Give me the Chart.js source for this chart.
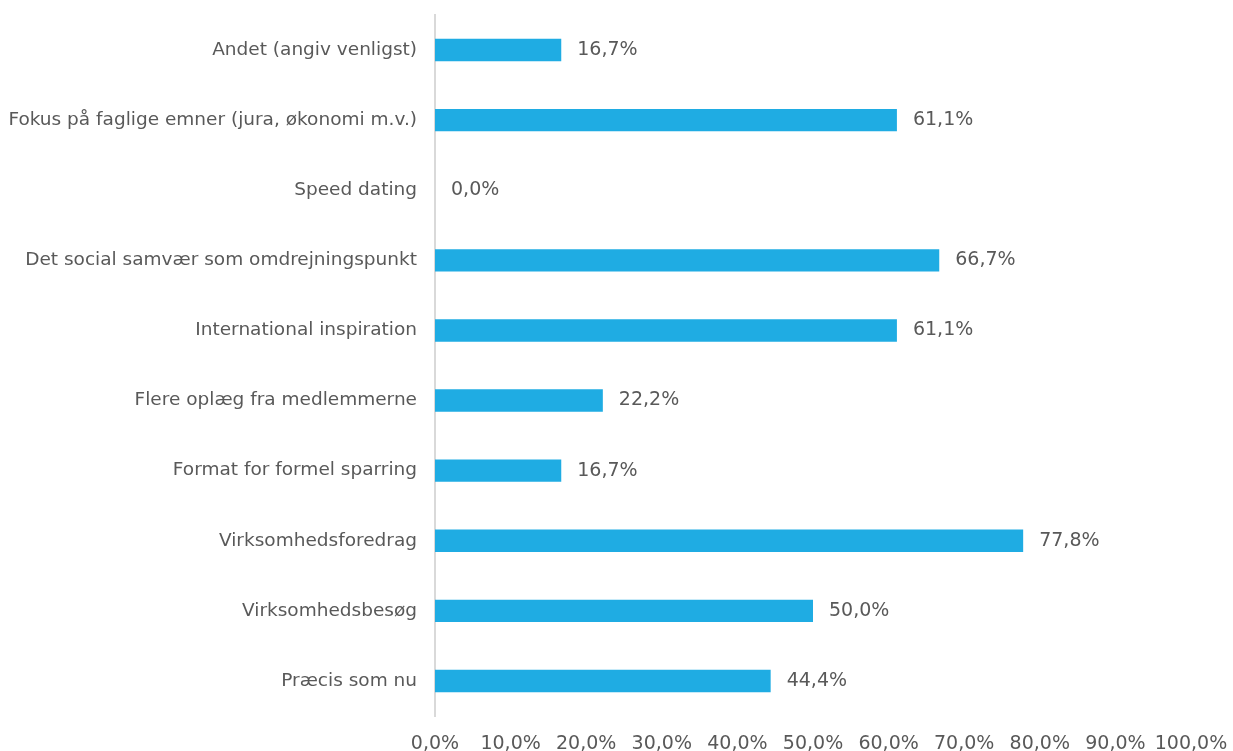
<!DOCTYPE html>
<html>
<head>
<meta charset="utf-8">
<script src="https://cdn.jsdelivr.net/npm/chart.js@4.4.0/dist/chart.umd.min.js"></script>
<style>
  html, body { margin: 0; padding: 0; background: #fff; }
  #wrap { width: 1233px; height: 751px; }
</style>
</head>
<body>
<div id="wrap"><canvas id="chart"></canvas></div>
<script>
// data, top to bottom
const categories = [
    'Andet (angiv venligst)',
    'Fokus på faglige emner (jura, økonomi m.v.)',
    'Speed dating',
    'Det social samvær som omdrejningspunkt',
    'International inspiration',
    'Flere oplæg fra medlemmerne',
    'Format for formel sparring',
    'Virksomhedsforedrag',
    'Virksomhedsbesøg',
    'Præcis som nu'
];
const shares = [16.7, 61.1, 0.0, 66.7, 61.1, 22.2, 16.7, 77.8, 50.0, 44.4];
const xTicks = [0, 10, 20, 30, 40, 50, 60, 70, 80, 90, 100];

const fontFamily = '"DejaVu Sans", sans-serif';
const textColor = '#595959';

const pct = (v) => v.toFixed(1).replace('.', ',') + '%';

// draws the value next to each bar
const valueLabels = {
    id: 'valueLabels',
    afterDatasetsDraw(chart) {
        const ctx = chart.ctx;
        const meta = chart.getDatasetMeta(0);
        ctx.save();
        ctx.font = '19px ' + fontFamily;
        ctx.fillStyle = textColor;
        ctx.textAlign = 'left';
        ctx.textBaseline = 'middle';
        meta.data.forEach((bar, i) => {
            ctx.fillText(pct(shares[i]), bar.x + 16, bar.y);
        });
        ctx.restore();
    }
};

new Chart(document.getElementById('chart'), {
    type: 'bar',
    data: {
        labels: categories,
        datasets: [{
            data: shares,
            backgroundColor: '#1FACE3',
            borderWidth: 0,
            categoryPercentage: 1,
            barPercentage: 0.32
        }]
    },
    options: {
        indexAxis: 'y',
        responsive: true,
        maintainAspectRatio: false,
        animation: false,
        layout: { padding: { top: 15, right: 42, left: 0, bottom: 0 } },
        plugins: {
            legend: { display: false },
            tooltip: { enabled: false }
        },
        scales: {
            x: {
                min: 0,
                max: 100,
                afterBuildTicks(scale) {
                    scale.ticks = xTicks.map(v => ({ value: v }));
                },
                afterFit(scale) {
                    scale.height = 35;
                    scale.paddingLeft = 0;
                    scale.paddingRight = 0;
                },
                grid: { display: false, drawTicks: false },
                border: { display: false },
                ticks: {
                    color: textColor,
                    font: { family: fontFamily, size: 19 },
                    padding: 17,
                    maxRotation: 0,
                    autoSkip: false,
                    callback: (v) => pct(v)
                }
            },
            y: {
                afterFit(scale) {
                    scale.width = 435;
                    scale.paddingTop = 0;
                    scale.paddingBottom = 0;
                },
                grid: { display: false, drawTicks: false },
                border: { display: true, color: '#D9D9D9', width: 2 },
                ticks: {
                    color: textColor,
                    font: { family: fontFamily, size: 18.5 },
                    padding: 18
                }
            }
        }
    },
    plugins: [valueLabels]
});
</script>
</body>
</html>
